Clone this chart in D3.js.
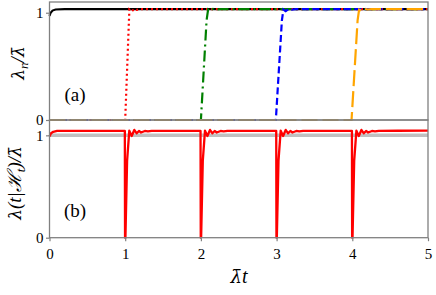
<!DOCTYPE html>
<html><head><meta charset="utf-8">
<script src="https://cdn.jsdelivr.net/npm/d3@7"></script>
<style>body{margin:0;background:#fff}svg{display:block}</style>
</head><body><svg id="c" width="436" height="295"></svg>
<script>
// Panel (a): lambda_n / lambda-bar, points [t, value]
const lam1 = [[0,0.97],[0.015,1.0],[0.04,1.02],[0.08,1.03],[0.2,1.033],[5,1.033]];
const lam2 = [[0,0],[1.0,0],[1.055,1.03],[1.085,1.012],[1.12,1.036],[1.15,1.026],[1.2,1.033],[5,1.033]];
const lam3 = [[0,0],[2.0,0],[2.075,0.93],[2.095,1.03],[2.12,1.015],[2.16,1.036],[2.2,1.028],[2.25,1.033],[5,1.033]];
const lam4 = [[0,0],[2.99,0],[3.07,0.93],[3.09,1.03],[3.12,1.015],[3.16,1.036],[3.2,1.028],[3.25,1.033],[5,1.033]];
const lam5 = [[0,0],[3.99,0],[4.07,0.93],[4.09,1.03],[4.12,1.02],[4.15,1.04],[4.2,1.03],[4.25,1.033],[5,1.033]];
// Panel (b): conditional intensity lambda(t|H_t)/lambda-bar
const condInt = [[0,0.99],[0.02,1.02],[0.05,1.035],[0.1,1.043],[0.5,1.043],[0.995,1.043],
 [0.998,0],[1.003,0],[1.025,0.75],[1.054,1.046],[1.086,0.994],[1.12,1.053],[1.152,1.02],[1.182,1.043],[1.209,1.028],[1.26,1.043],[1.3,1.038],[1.35,1.044],[1.5,1.043],[1.995,1.043],
 [1.998,0],[2.003,0],[2.025,0.75],[2.054,1.046],[2.086,0.994],[2.12,1.053],[2.152,1.02],[2.182,1.043],[2.209,1.028],[2.26,1.043],[2.3,1.038],[2.35,1.044],[2.5,1.043],[2.995,1.043],
 [2.998,0],[3.003,0],[3.025,0.75],[3.054,1.046],[3.086,0.994],[3.12,1.053],[3.152,1.02],[3.182,1.043],[3.209,1.028],[3.26,1.043],[3.3,1.038],[3.35,1.044],[3.5,1.043],[3.995,1.043],
 [3.998,0],[4.003,0],[4.025,0.75],[4.054,1.046],[4.086,0.994],[4.12,1.053],[4.152,1.02],[4.182,1.043],[4.209,1.028],[4.26,1.043],[4.3,1.038],[4.35,1.044],[4.6,1.045],[5,1.046]];
const refLevel = [[0,1],[5,1]];
const xTicks = [0,1,2,3,4,5];
const yTicksA = [0,1];
const yTicksB = [0,1];

const SERIF = '"Liberation Serif"';
const DVS = '"DejaVu Serif"';
const svg = d3.select("#c");
const x = d3.scaleLinear().domain([0,5]).range([49.5,428]);
const yA = d3.scaleLinear().domain([0,1.1]).range([120,2]);
const yB = d3.scaleLinear().domain([0,1.15]).range([237.7,120]);

function line(y){ return d3.line().x(d=>x(d[0])).y(d=>y(d[1])); }

const ga = svg.append("g");
const seriesA = [
  {d:lam1, c:"#000000", dash:null},
  {d:lam2, c:"#ff0000", dash:"2,3"},
  {d:lam3, c:"#008000", dash:"11,4,2,4"},
  {d:lam4, c:"#0000ff", dash:"7,3.5"},
  {d:lam5, c:"#ffa500", dash:"16,5"}
];
seriesA.forEach(s=>{
  ga.append("path").attr("d", line(yA)(s.d)).attr("fill","none")
    .attr("stroke", s.c).attr("stroke-width",2.2)
    .attr("stroke-dasharray", s.dash);
});

const gb = svg.append("g");
gb.append("path").attr("d", line(yB)(refLevel)).attr("fill","none")
  .attr("stroke","#c0c0c0").attr("stroke-width",3.5);
gb.append("path").attr("d", line(yB)(condInt)).attr("fill","none")
  .attr("stroke","#ff0000").attr("stroke-width",2.3).attr("stroke-linejoin","round");

function frame(y){
  const r = y.range();
  svg.append("rect").attr("x",x(0)).attr("y",r[1]).attr("width",x(5)-x(0)).attr("height",r[0]-r[1])
    .attr("fill","none").attr("stroke","#808080").attr("stroke-width",1.3);
}
frame(yA); frame(yB);

function styleAxis(g){
  g.attr("font-family",null).attr("font-size",null);
  g.select(".domain").remove();
  g.selectAll("line").attr("stroke","#808080").attr("stroke-width",1.2);
  g.selectAll("text").style("font-family",SERIF).style("font-size","15px").attr("fill","#000");
}
function yAxis(y, ticks){
  const g = svg.append("g").attr("transform",`translate(${x(0)},0)`)
    .call(d3.axisLeft(y).tickValues(ticks).tickFormat(d3.format("d")).tickSize(3.5).tickPadding(2.5));
  styleAxis(g);
}
yAxis(yA, yTicksA); yAxis(yB, yTicksB);

const gx = svg.append("g").attr("transform",`translate(0,${yB(0)})`)
  .call(d3.axisBottom(x).tickValues(xTicks).tickFormat(d3.format("d")).tickSize(3.5).tickPadding(7));
styleAxis(gx);

// axis titles
function T(sel, txt, font, size, extra){
  const s = sel.append("tspan").style("font-family",font).style("font-size",size+"px").text(txt);
  if (extra) extra(s);
  return s;
}
svg.append("text").attr("transform","translate(24,63) rotate(-90)").attr("text-anchor","middle")
  .style("font-family",SERIF).style("font-size","19px").style("font-style","italic")
  .call(t=>{
    T(t,"λ",DVS,17);
    T(t,"n",SERIF,13,s=>s.attr("dy",4));
    T(t,"/",SERIF,19,s=>s.attr("dy",-4));
    T(t,"λ\u0304",DVS,17); });
svg.append("text").attr("transform","translate(21,183) rotate(-90)").attr("text-anchor","middle")
  .style("font-family",SERIF).style("font-size","19px").style("font-style","italic")
  .call(t=>{
    T(t,"λ",DVS,17);
    T(t,"(t|ℋ",SERIF,19);
    T(t,"t",SERIF,13,s=>s.attr("dy",4));
    T(t,")/",SERIF,19,s=>s.attr("dy",-4));
    T(t,"λ\u0304",DVS,17); });
svg.append("text").attr("x",239).attr("y",283).attr("text-anchor","middle")
  .style("font-family",SERIF).style("font-size","20px").style("font-style","italic")
  .call(t=>{ T(t,"λ\u0304",DVS,18); T(t,"t",SERIF,20); });
svg.append("text").attr("x",75).attr("y",101).attr("text-anchor","middle")
  .style("font-family",SERIF).style("font-size","19px").text("(a)");
svg.append("text").attr("x",75).attr("y",217).attr("text-anchor","middle")
  .style("font-family",SERIF).style("font-size","19px").text("(b)");
</script></body></html>
